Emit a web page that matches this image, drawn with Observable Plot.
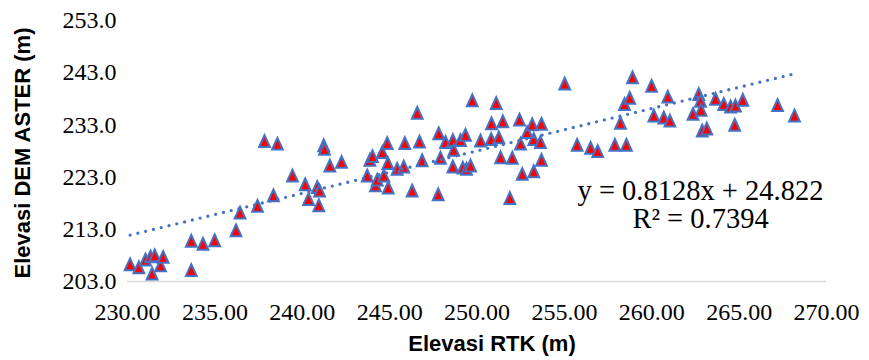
<!DOCTYPE html>
<html>
<head>
<meta charset="utf-8">
<script src="https://cdn.jsdelivr.net/npm/d3@7"></script>
<script src="https://cdn.jsdelivr.net/npm/@observablehq/plot@0.6"></script>
<style>
  html, body { margin: 0; padding: 0; background: #fff; }
</style>
</head>
<body>
<div id="chart"></div>
<script>
// Elevasi RTK (m)
const rtk = [
  230.15, 230.65, 231.03, 231.32, 231.56, 231.89, 232.04, 231.41, 233.65, 233.65,
  234.32, 234.99, 236.21, 236.44, 237.44, 238.35, 237.84, 238.58, 239.44, 240.17,
  240.86, 240.36, 240.95, 241.23, 241.27, 241.58, 242.25, 243.72, 243.87, 244.19,
  244.29, 244.58, 244.67, 244.86, 244.90, 244.92, 245.43, 245.81, 245.87, 246.29,
  246.58, 246.71, 246.86, 247.78, 247.81, 247.91, 248.20, 248.62, 248.67, 248.62,
  249.06, 249.19, 249.34, 249.40, 249.63, 249.73, 250.20, 250.81, 250.83, 251.10,
  251.25, 251.35, 251.48, 251.88, 252.02, 252.43, 252.49, 252.59, 252.87, 253.16,
  253.25, 253.25, 253.63, 253.69, 253.69, 255.02, 255.73, 256.50, 256.91, 257.89,
  258.21, 258.44, 258.55, 258.74, 258.90, 259.99, 260.12, 260.69, 261.04, 260.92,
  262.36, 262.69, 262.79, 262.82, 262.89, 263.15, 263.65, 264.12, 264.51, 264.79,
  264.75, 265.21, 267.20, 268.17, 240.99, 244.02
];
// Elevasi DEM ASTER (m)
const aster = [
  206.3, 205.7, 207.2, 207.8, 208.0, 206.1, 207.7, 204.5, 205.2, 210.8,
  210.2, 210.9, 212.8, 216.2, 217.5, 219.5, 229.9, 229.4, 223.3, 221.6,
  221.1, 218.8, 217.6, 229.1, 228.4, 225.2, 225.9, 223.3, 226.3, 221.4,
  222.5, 227.8, 223.3, 229.5, 225.7, 221.0, 224.6, 225.0, 229.5, 220.4,
  235.3, 229.8, 226.2, 219.7, 231.4, 226.7, 229.7, 230.1, 228.2, 225.0,
  230.1, 224.8, 231.1, 224.6, 225.2, 237.7, 230.0, 230.3, 233.3, 237.2,
  230.6, 226.8, 233.7, 219.0, 226.7, 234.0, 229.4, 223.6, 231.6, 233.1,
  230.3, 224.1, 229.7, 233.2, 226.3, 240.9, 229.2, 228.6, 228.0, 229.2,
  233.4, 237.0, 229.2, 238.2, 242.1, 240.5, 234.8, 234.4, 233.8, 238.4,
  235.1, 238.9, 237.6, 235.9, 231.9, 232.3, 238.0, 237.0, 236.5, 236.7,
  233.0, 237.8, 236.8, 234.8, 220.4, 227.0
];
const xTicks = [230, 235, 240, 245, 250, 255, 260, 265, 270];
const yTicks = [203, 213, 223, 233, 243, 253];
const trendSlope = 0.8128;
const trendIntercept = 24.822;
const rSquared = 0.7394;
const xTitle = "Elevasi RTK (m)";
const yTitle = "Elevasi DEM ASTER (m)";

const points = rtk.map((x, i) => ({x, y: aster[i]}));
const [xMin, xMax] = d3.extent(rtk);
const trend = [xMin, xMax].map(x => ({x, y: trendSlope * x + trendIntercept}));
const eqText = `y = ${trendSlope}x + ${trendIntercept}\nR² = ${rSquared}`;

const tri = {
  draw(ctx) {
    const hw = 5.4, hh = 5.9;
    ctx.moveTo(0, -hh);
    ctx.lineTo(hw, hh);
    ctx.lineTo(-hw, hh);
    ctx.closePath();
  }
};

const serif = "'Liberation Serif', 'Times New Roman', serif";
const sans = "'Liberation Sans', Arial, sans-serif";

const chart = Plot.plot({
  width: 869,
  height: 360,
  marginLeft: 127,
  marginRight: 43,
  marginTop: 20,
  marginBottom: 79,
  style: {fontFamily: serif, fontSize: "24px", color: "#000", background: "#fff"},
  x: {domain: [230, 270]},
  y: {domain: [203, 253]},
  marks: [
    Plot.ruleY([203], {stroke: "#d9d9d9", strokeWidth: 1.5}),
    Plot.axisX({ticks: xTicks, tickSize: 0, tickPadding: 21, tickFormat: d => d.toFixed(2), label: null, fontSize: 24, fontFamily: serif, fill: "#000"}),
    Plot.axisY({ticks: yTicks, tickSize: 0, tickPadding: 11, tickFormat: d => d.toFixed(1), label: null, fontSize: 24, fontFamily: serif, fill: "#000"}),
    Plot.dot(points, {x: "x", y: "y", symbol: tri, r: 5, fill: "#ff0000", stroke: "#4472c4", strokeWidth: 2}),
    Plot.line(trend, {x: "x", y: "y", stroke: "#4472c4", strokeWidth: 3.3, strokeDasharray: "0 8", strokeLinecap: "round"}),
    Plot.text([eqText], {frameAnchor: "top-left", dx: 573, dy: 185, textAnchor: "middle", lineAnchor: "middle", lineHeight: 0.98, fontSize: 28.5, fontFamily: serif, fill: "#000"}),
    Plot.text([xTitle], {frameAnchor: "bottom", dx: 15, dy: 62, textAnchor: "middle", lineAnchor: "middle", fontSize: 22, fontWeight: "bold", fontFamily: sans, fill: "#000"}),
    Plot.text([yTitle], {frameAnchor: "left", dx: -105, dy: 2, rotate: -90, textAnchor: "middle", lineAnchor: "middle", fontSize: 22, fontWeight: "bold", fontFamily: sans, fill: "#000"})
  ]
});
document.getElementById("chart").appendChild(chart);
</script>
</body>
</html>
